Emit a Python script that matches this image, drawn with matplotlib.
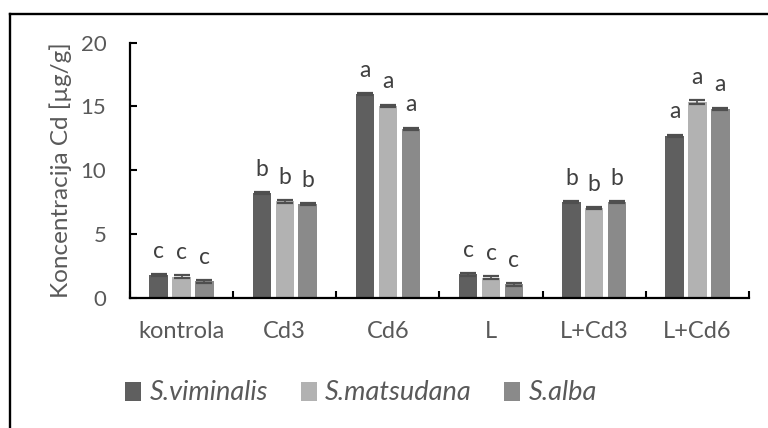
import matplotlib
matplotlib.use("Agg")
import matplotlib.pyplot as plt
import numpy as np
from matplotlib.lines import Line2D

categories = ["kontrola", "Cd3", "Cd6", "L", "L+Cd3", "L+Cd6"]
series = ["S.viminalis", "S.matsudana", "S.alba"]
viminalis = [1.76, 8.19, 15.98, 1.83, 7.50, 12.70]
matsudana = [1.65, 7.56, 15.04, 1.57, 7.04, 15.35]
alba = [1.29, 7.35, 13.25, 1.05, 7.50, 14.82]
err_viminalis = [0.08, 0.08, 0.08, 0.10, 0.07, 0.08]
err_matsudana = [0.10, 0.10, 0.10, 0.12, 0.08, 0.12]
err_alba = [0.10, 0.08, 0.08, 0.10, 0.08, 0.08]
letters_viminalis = ["c", "b", "a", "c", "b", "a"]
letters_matsudana = ["c", "b", "a", "c", "b", "a"]
letters_alba = ["c", "b", "a", "c", "b", "a"]

colors = ["#5f5f5f", "#b2b2b2", "#8a8a8a"]
txt = "#595959"
plt.rcParams['font.family'] = ['Lato', 'DejaVu Sans']

fig = plt.figure(figsize=(7.68, 4.28), dpi=100)
ax = fig.add_axes([130/768, 1-297.7/428, (749-130)/768, (297.7-42.7)/428])

x = np.arange(len(categories))
step = 0.222
width = 0.178
data = [viminalis, matsudana, alba]
errs = [err_viminalis, err_matsudana, err_alba]
lets = [letters_viminalis, letters_matsudana, letters_alba]
for k in range(3):
    pos = x + (k - 1) * step
    ax.bar(pos, data[k], width=width, color=colors[k], label=series[k], zorder=2)
    ax.errorbar(pos, data[k], yerr=errs[k], fmt='none', ecolor='#4f4f4f',
                elinewidth=1.2, capsize=5.5, capthick=1.6, zorder=3)
    for p, v, e, l in zip(pos, data[k], errs[k], lets[k]):
        ax.annotate(l, (p, v + e), xytext=(0, 16.5), textcoords='offset points',
                    ha='center', va='center', fontsize=16.5, color='#404040')

ax.set_xlim(-0.5, len(categories) - 0.5)
ax.set_ylim(0, 20)
ax.set_yticks([0, 5, 10, 15, 20])
ax.set_xticks(x)
ax.set_xticklabels(categories)
ax.set_xticks(np.arange(-0.5, len(categories), 1.0), minor=True)
ax.tick_params(axis='x', which='major', length=0, pad=17, labelsize=17, labelcolor=txt)
ax.tick_params(axis='x', which='minor', direction='in', length=5, width=1.5, color='black')
ax.tick_params(axis='y', direction='in', length=5, width=1.5, pad=17, labelsize=16,
               labelcolor=txt)
for s in ['top', 'right']:
    ax.spines[s].set_visible(False)
for s in ['left', 'bottom']:
    ax.spines[s].set_linewidth(1.6)
ax.set_ylabel("Koncentracija Cd [µg/g]", fontsize=17.5, color=txt, labelpad=6)

handles, labels = ax.get_legend_handles_labels()
leg = fig.legend(handles, labels, loc='center', bbox_to_anchor=(361/768, 1-393/428),
                 ncol=3, frameon=False, handlelength=0.6,
                 handleheight=0.7, handletextpad=0.3, columnspacing=1.2,
                 prop={'style': 'italic', 'size': 19.5})
for t in leg.get_texts():
    t.set_color(txt)

fig.add_artist(Line2D([10/768, 10/768], [0, 1-14/428], transform=fig.transFigure,
                      color='black', lw=1.7))
fig.add_artist(Line2D([10/768, 1], [1-14/428, 1-14/428], transform=fig.transFigure,
                      color='black', lw=1.7))

fig.savefig("out.png", dpi=100)
